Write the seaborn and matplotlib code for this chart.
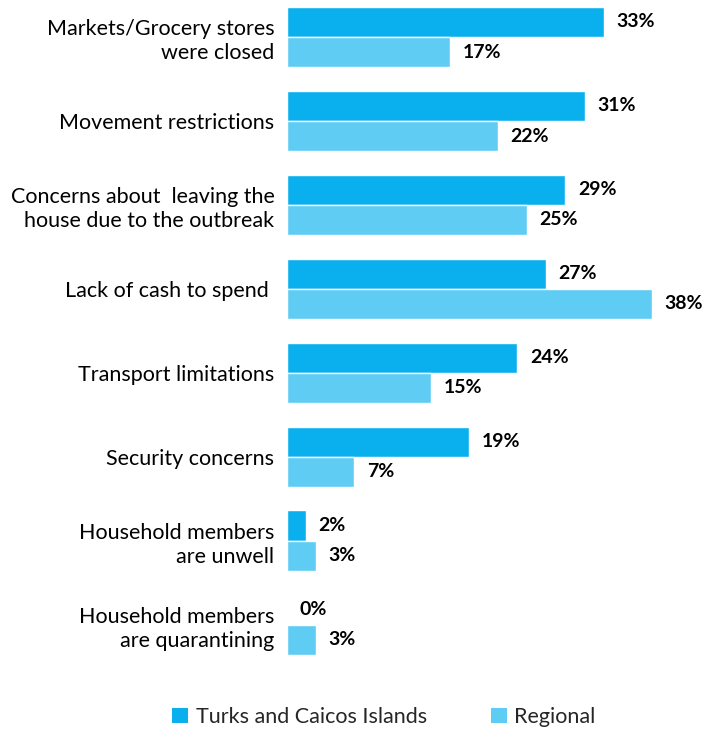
import matplotlib
matplotlib.use("Agg")
import matplotlib.pyplot as plt
import seaborn as sns
import pandas as pd
from matplotlib.patches import Patch

categories = [
    "Markets/Grocery stores\nwere closed",
    "Movement restrictions",
    "Concerns about  leaving the\nhouse due to the outbreak",
    "Lack of cash to spend ",
    "Transport limitations",
    "Security concerns",
    "Household members\nare unwell",
    "Household members\nare quarantining",
]
series_names = ["Turks and Caicos Islands", "Regional"]
tci_values = [33, 31, 29, 27, 24, 19, 2, 0]
regional_values = [17, 22, 25, 38, 15, 7, 3, 3]
colors = ["#0AB0EE", "#5FCCF3"]

df = pd.DataFrame({
    "category": categories * 2,
    "series": [series_names[0]] * len(categories) + [series_names[1]] * len(categories),
    "value": tci_values + regional_values,
})

sns.set_theme(style="white")
plt.rcParams["font.family"] = ["Lato", "DejaVu Sans"]

W, H = 706, 731
fig = plt.figure(figsize=(W / 100, H / 100), dpi=100)
ax = fig.add_axes([287 / W, 1 - 670 / H, (W - 287) / W, 670 / H])

sns.barplot(data=df, y="category", x="value", hue="series", orient="h",
            order=categories, hue_order=series_names, palette=colors,
            width=0.72, ax=ax, legend=False, saturation=1)

ax.set_xlim(0, (W - 287) / 9.6)
ax.set_ylim(7.54, -0.44)

for container in ax.containers:
    for bar in container:
        v = bar.get_width()
        yc = bar.get_y() + bar.get_height() / 2
        ax.annotate(f"{v:.0f}%", (v, yc), xytext=(9, 0), textcoords="offset points",
                    va="center", ha="left", fontsize=14, fontweight="bold", color="black")

ax.set_xlabel("")
ax.set_ylabel("")
ax.set_xticks([])
ax.tick_params(axis="y", length=0, pad=9)
for lbl in ax.get_yticklabels():
    lbl.set_fontsize(15.5)
    lbl.set_linespacing(1.25)
    lbl.set_color("black")
for s in ax.spines.values():
    s.set_visible(False)

handles = [Patch(facecolor=c, edgecolor="none") for c in colors]
fig.legend(handles, series_names, loc="center", bbox_to_anchor=(384 / W, 1 - 717 / H),
           ncol=2, frameon=False, fontsize=15.5, handlelength=0.72, handleheight=0.72,
           handletextpad=0.35, columnspacing=3.0)

fig.savefig("out.png", dpi=100)
